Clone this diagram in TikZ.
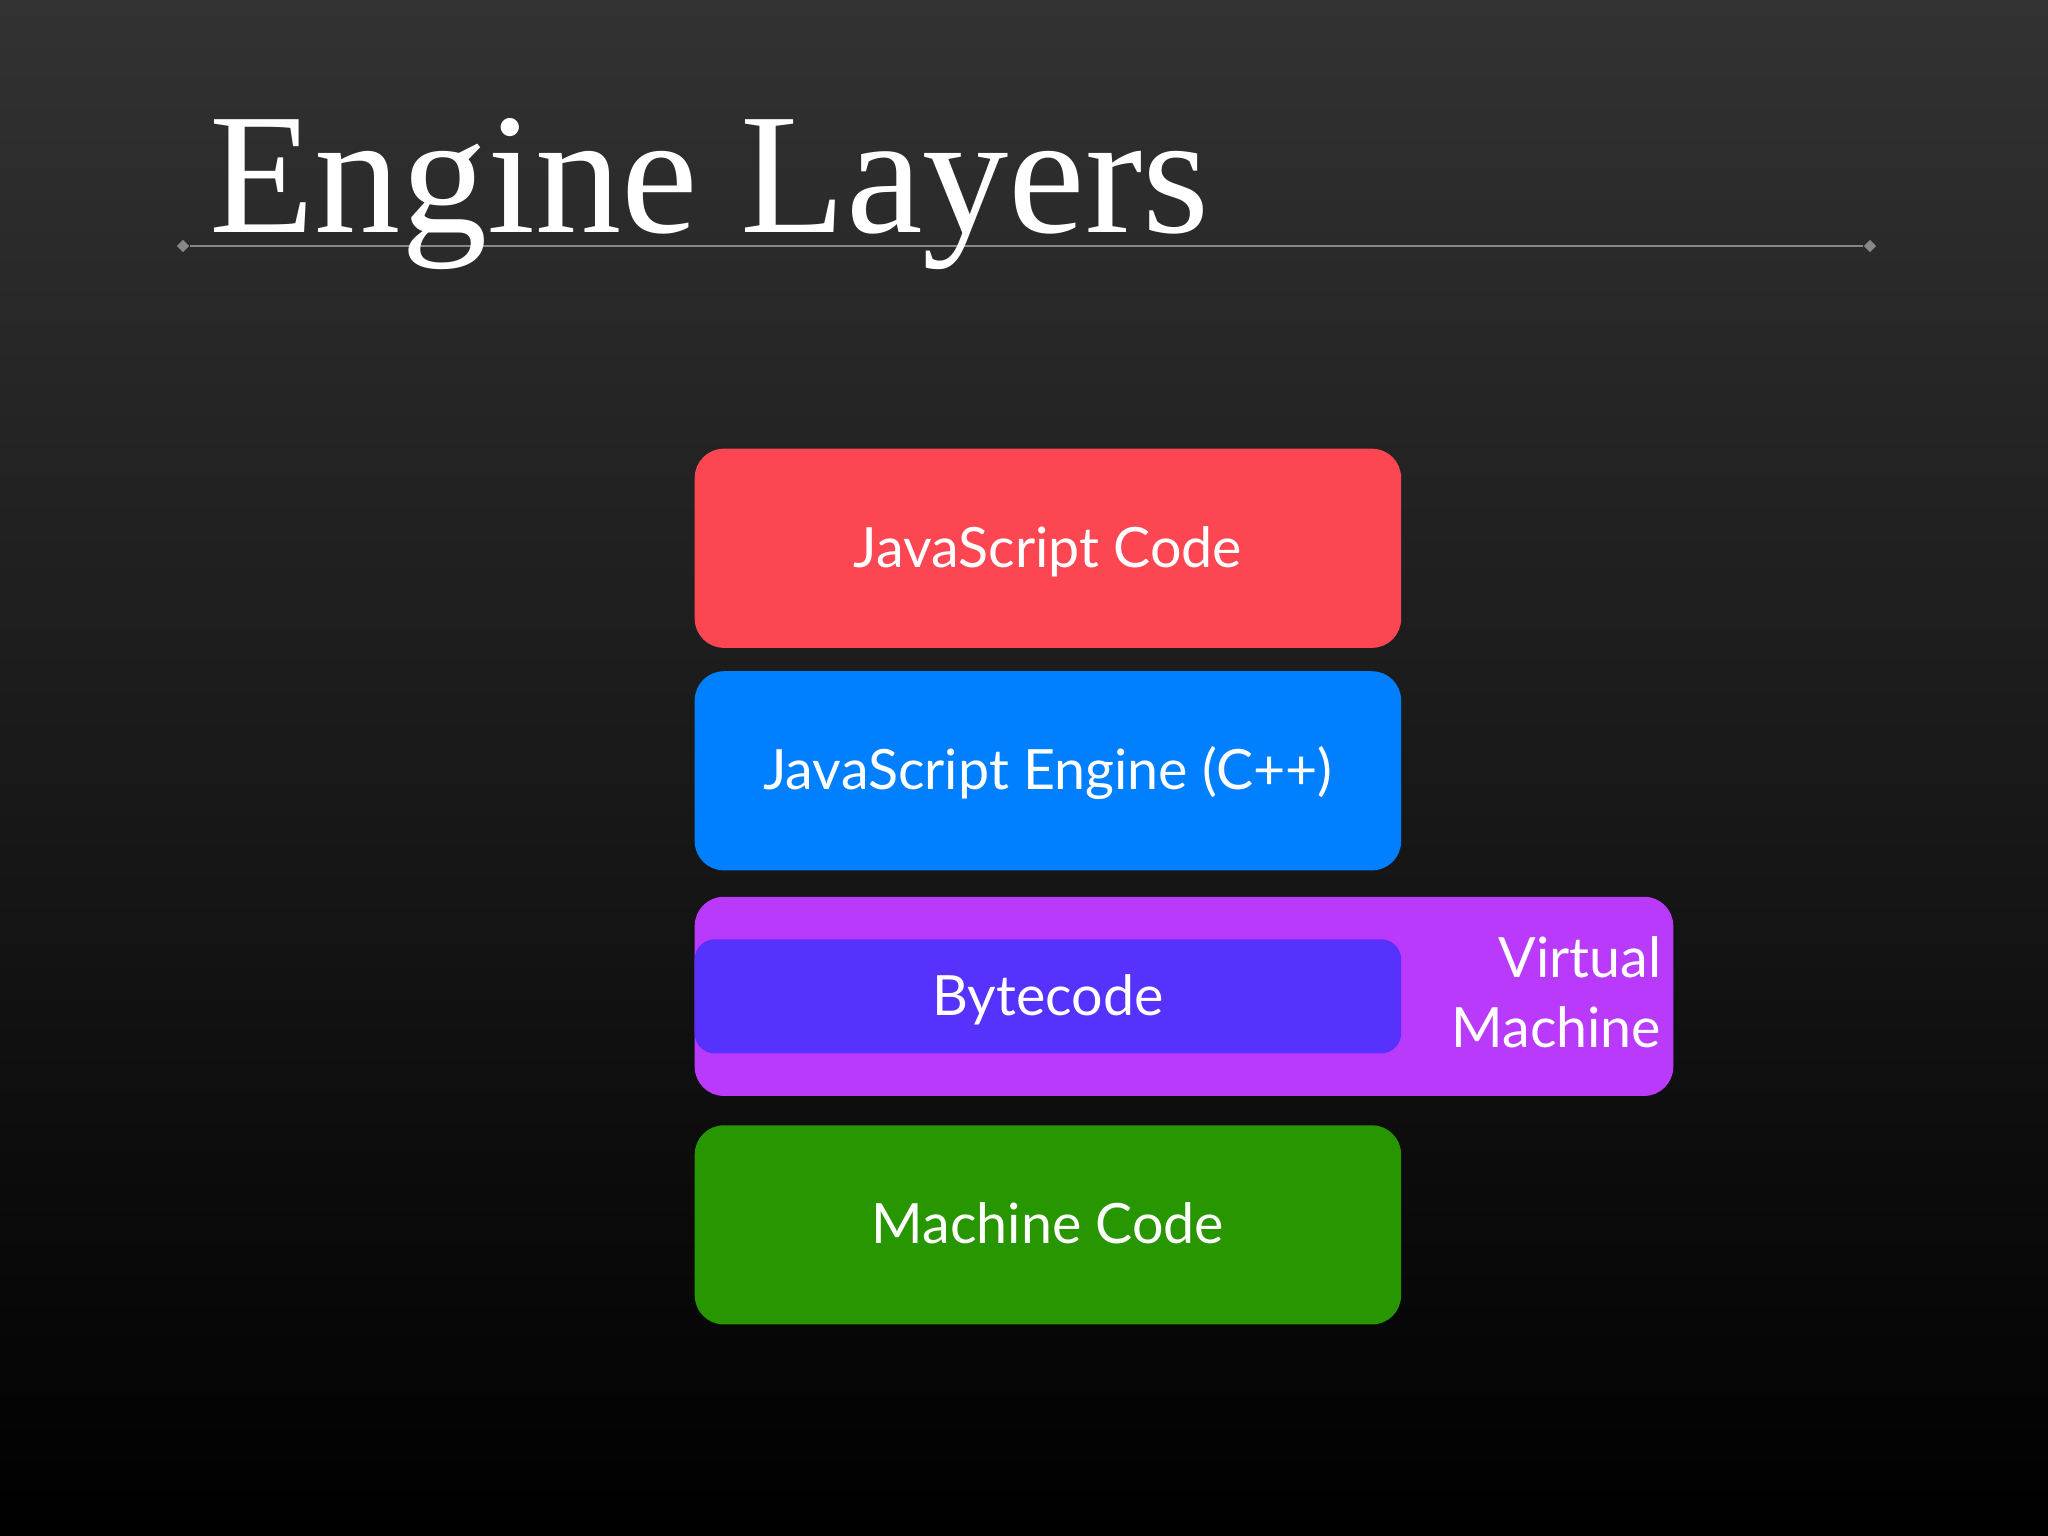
\documentclass[tikz,border=0pt]{standalone}
\usepackage{fontspec}
\setmainfont{Liberation Serif}
\newfontfamily\layerfont{Lato}
\usetikzlibrary{positioning, calc, shapes.geometric}
\definecolor{bgtop}{RGB}{50,50,50}
\definecolor{rulegray}{RGB}{136,136,136}
\definecolor{jsred}{RGB}{252,70,82}
\definecolor{engblue}{RGB}{0,128,255}
\definecolor{vmpurple}{RGB}{186,58,252}
\definecolor{bcviolet}{RGB}{86,50,252}
\definecolor{mcgreen}{RGB}{40,150,0}

\begin{document}
\begin{tikzpicture}[x=0.01cm, y=-0.01cm, node distance=0.22cm,
  layer/.style={rounded corners=0.29cm, minimum width=7.06cm, minimum height=1.99cm,
    inner sep=0pt, text height=0.38cm, text depth=0pt, text=white,
    font=\layerfont\fontsize{15.8}{19.9}\selectfont},
  ruletip/.style={diamond, fill=rulegray, inner sep=0pt, minimum size=0.13cm}]
% background
\useasboundingbox (0,0) rectangle (2048,1536);
\shade[top color=bgtop, bottom color=black] (0,0) rectangle (2048,1536);
% title rule
\node[ruletip] (ruleL) at (183,246) {};
\node[ruletip] (ruleR) at (1870,246) {};
\draw[rulegray, line width=0.6pt] (ruleL) -- (ruleR);
% title
\node[anchor=base west, inner sep=0pt, text=white, font=\fontsize{49}{55}\selectfont] (title) at (209,232) {Engine Layers};
% layers
\node[layer, fill=jsred, anchor=north west] (jscode) at (694,448) {JavaScript Code};
\node[layer, fill=engblue, below=of jscode] (engine) {JavaScript Engine (C++)};
\node[layer, fill=vmpurple, minimum width=9.78cm, below=0.25cm of engine.south west, anchor=north west] (vm) {};
\node[layer, fill=bcviolet, minimum height=1.14cm, rounded corners=0.2cm, anchor=west] (bytecode) at (vm.west) {Bytecode};
\node[anchor=east, align=right, inner sep=0pt, text=white, font=\layerfont\fontsize{15.8}{19.9}\selectfont] (vmlabel) at ([xshift=-0.12cm, yshift=0.04cm]vm.east) {Virtual\\Machine};
\node[layer, fill=mcgreen, below=0.28cm of vm.south west, anchor=north west] (mcode) {Machine Code};
\end{tikzpicture}
\end{document}
